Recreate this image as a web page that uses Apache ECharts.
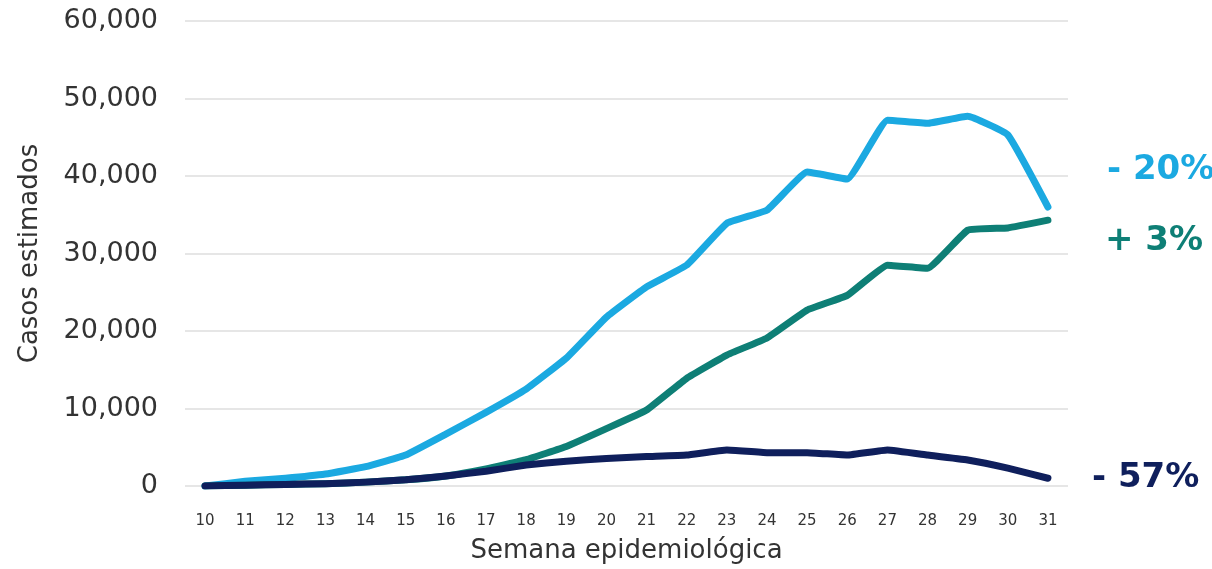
<!DOCTYPE html>
<html>
<head>
<meta charset="utf-8">
<script src="https://cdn.jsdelivr.net/npm/echarts@6/dist/echarts.min.js"></script>
<style>
    html, body {margin: 0; padding: 0; background: #ffffff;}
    #chart {width: 1212px; height: 569px;}
</style>
</head>
<body>
<div id="chart"></div>
<script>
// semanas epidemiológicas
const semanas = ['10', '11', '12', '13', '14', '15', '16', '17', '18', '19', '20',
    '21', '22', '23', '24', '25', '26', '27', '28', '29', '30', '31']
// casos estimados por serie
const serieAzul = [0, 600, 1000, 1550, 2500, 4000, 6700, 9500, 12500, 16500, 21800,
    25700, 28500, 33900, 35600, 40500, 39600, 47200, 46800, 47700, 45300, 36000]
const serieVerde = [0, 100, 200, 300, 500, 800, 1300, 2200, 3400, 5100, 7400,
    9800, 13900, 16900, 19100, 22700, 24600, 28500, 28100, 33000, 33300, 34300]
const serieMarino = [0, 100, 200, 300, 500, 800, 1300, 1900, 2700, 3200, 3550,
    3800, 4000, 4650, 4300, 4300, 4000, 4650, 4000, 3350, 2300, 1000]
// etiquetas de cambio porcentual al final de cada serie
const etiquetas = ['- 20%', '+ 3%', '- 57%']

const colores = ['#1ba9e1', '#0e7f76', '#0f1f5c']

let chart = echarts.init(document.getElementById('chart'))

function crearSerie(nombre, datos, color, etiqueta, distancia, desplazY) {
    return {
        name: nombre,
        type: 'line',
        data: datos,
        symbol: 'none',
        smooth: 0.1,
        lineStyle: {
            color: color,
            width: 7,
            cap: 'round',
            join: 'round'
        },
        itemStyle: {
            color: color
        },
        endLabel: {
            show: true,
            formatter: etiqueta,
            color: color,
            fontFamily: 'DejaVu Sans',
            fontWeight: 'bold',
            fontSize: 34,
            distance: distancia,
            offset: [0, desplazY]
        }
    }
}

const option = {
    animation: false,
    backgroundColor: '#ffffff',
    grid: {
        left: 185,
        right: 144,
        top: 21,
        bottom: 83
    },
    xAxis: {
        type: 'category',
        data: semanas,
        boundaryGap: true,
        name: 'Semana epidemiológica',
        nameLocation: 'middle',
        nameGap: 52,
        nameTextStyle: {
            fontFamily: 'DejaVu Sans',
            fontSize: 26,
            color: '#333333'
        },
        axisLine: {show: false},
        axisTick: {show: false},
        axisLabel: {
            margin: 28,
            fontFamily: 'DejaVu Sans',
            fontSize: 15,
            color: '#333333'
        }
    },
    yAxis: {
        type: 'value',
        min: 0,
        max: 60000,
        interval: 10000,
        name: 'Casos estimados',
        nameLocation: 'middle',
        nameGap: 142,
        nameTextStyle: {
            fontFamily: 'DejaVu Sans',
            fontSize: 26,
            color: '#333333'
        },
        axisLine: {show: false},
        axisTick: {show: false},
        axisLabel: {
            margin: 27,
            fontFamily: 'DejaVu Sans',
            fontSize: 27,
            color: '#333333',
            formatter: function (v) {
                return v.toLocaleString('en-US')
            }
        },
        splitLine: {
            lineStyle: {
                color: '#dedede',
                width: 1.5
            }
        }
    },
    series: [
        crearSerie('azul', serieAzul, colores[0], etiquetas[0], 59, -37),
        crearSerie('verde', serieVerde, colores[1], etiquetas[1], 57, 21),
        crearSerie('marino', serieMarino, colores[2], etiquetas[2], 44, 0)
    ]
}
chart.setOption(option)
</script>
</body>
</html>
